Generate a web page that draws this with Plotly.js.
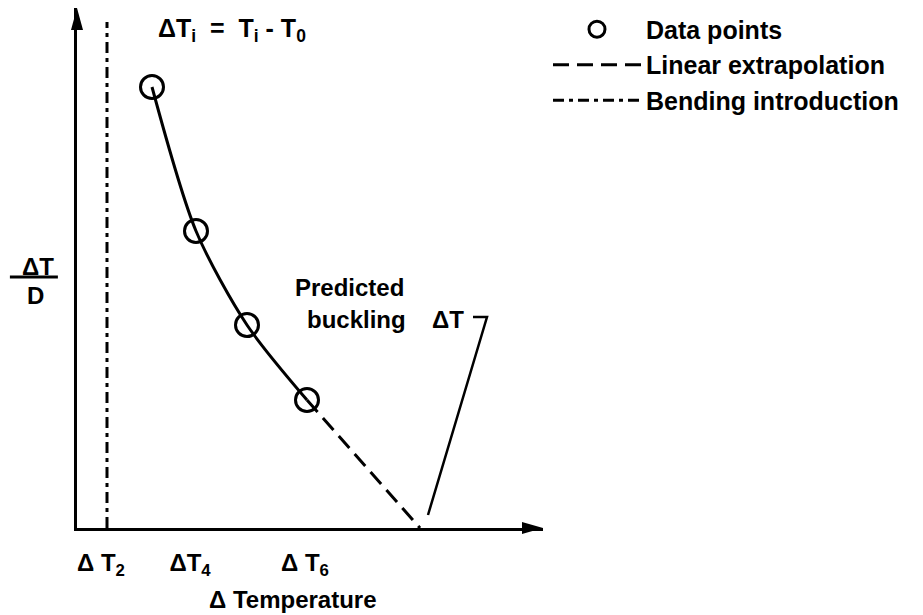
<!DOCTYPE html>
<html>
<head>
<meta charset="utf-8">
<script src="https://cdn.plot.ly/plotly-3.0.1.min.js"></script>
<style>
  html, body { margin: 0; padding: 0; background: #fff; }
  #chart { width: 923px; height: 615px; }
</style>
</head>
<body>
<div id="chart"></div>
<script>
var pointsX = [7.5, 11.9, 17.0, 23.0];
var pointsY = [44.1, 29.7, 20.3, 12.8];
var bucklingX = 34.3;
var bucklingY = 0;
var bendingX = 3.0;
var bendingTop = 50.6;
var tickVals = [2.4, 11.3, 22.8];
var tickText = ['Δ T<sub>2</sub>', 'ΔT<sub>4</sub>', 'Δ T<sub>6</sub>'];
var xMax = 46.6;
var yMax = 52.0;

var FONT = 'Liberation Sans, Arial, Helvetica, sans-serif';
var f = function (s) { return {family: FONT, size: s, color: '#000', weight: 'bold'}; };

var traces = [
  { // fitted curve through data points
    x: pointsX, y: pointsY, mode: 'lines', showlegend: false,
    line: {color: '#000', width: 3, shape: 'spline', smoothing: 0.8},
    hoverinfo: 'skip'
  },
  {
    x: pointsX, y: pointsY, mode: 'markers', name: 'Data points',
    marker: {symbol: 'circle-open', size: 23, color: '#000', line: {width: 3, color: '#000'}}
  },
  {
    x: [pointsX[pointsX.length - 1], bucklingX],
    y: [pointsY[pointsY.length - 1], bucklingY],
    mode: 'lines', name: 'Linear extrapolation',
    line: {color: '#000', width: 3, dash: '16px,8px'}
  },
  {
    x: [bendingX, bendingX], y: [0, bendingTop],
    mode: 'lines', name: 'Bending introduction',
    line: {color: '#000', width: 3, dash: '11px,5px,4px,5px'}
  }
];

var layout = {
  width: 923, height: 615,
  margin: {l: 77, r: 380, t: 8, b: 87, autoexpand: false},
  paper_bgcolor: '#fff', plot_bgcolor: '#fff',
  showlegend: true,
  legend: {
    x: 1.0107, xanchor: 'left', y: 1.003, yanchor: 'top',
    font: f(25), itemwidth: 88, tracegroupgap: 0,
    bgcolor: 'rgba(0,0,0,0)'
  },
  xaxis: {
    range: [0, xMax], showgrid: false, zeroline: false,
    showline: true, linecolor: '#000', linewidth: 3,
    tickmode: 'array', tickvals: tickVals, ticktext: tickText,
    ticks: '', tickfont: f(24), ticklabelstandoff: 11, fixedrange: true
  },
  yaxis: {
    range: [0, yMax], showgrid: false, zeroline: false,
    showline: true, linecolor: '#000', linewidth: 3,
    showticklabels: false, ticks: '', fixedrange: true
  },
  shapes: [
    { // y-axis arrow head (paper units)
      type: 'path', xref: 'paper', yref: 'paper',
      path: 'M0,1 L-0.0129,0.9577 L0.0129,0.9577 Z',
      fillcolor: '#000', line: {width: 0}
    },
    { // x-axis arrow head (paper units)
      type: 'path', xref: 'paper', yref: 'paper',
      path: 'M1,0 L0.955,0.0115 L0.955,-0.0115 Z',
      fillcolor: '#000', line: {width: 0}
    },
    { // pointer from label to predicted buckling point
      type: 'path', xref: 'x', yref: 'y',
      path: 'M39.6,21.1 L41.0,21.1 L' + (bucklingX + 0.8) + ',' + (bucklingY + 1.3),
      line: {color: '#000', width: 2.5}
    },
    { // fraction bar of y label
      type: 'line', xref: 'paper', yref: 'paper',
      x0: -0.144, x1: -0.041, y0: 0.4826, y1: 0.4826,
      line: {color: '#000', width: 3}
    }
  ],
  annotations: [
    {text: 'ΔT<sub>i</sub>  =  T<sub>i</sub> - T<sub>0</sub>', x: 15.5, y: 49.8, xref: 'x', yref: 'y',
     xanchor: 'center', yanchor: 'middle', showarrow: false, font: f(25)},
    {text: 'Predicted', x: 21.6, y: 24.1, xref: 'x', yref: 'y', xanchor: 'left', yanchor: 'middle',
     showarrow: false, font: f(24)},
    {text: 'buckling', x: 22.8, y: 20.9, xref: 'x', yref: 'y', xanchor: 'left', yanchor: 'middle',
     showarrow: false, font: f(24)},
    {text: 'ΔT', x: 35.3, y: 20.9, xref: 'x', yref: 'y', xanchor: 'left', yanchor: 'middle',
     showarrow: false, font: f(24)},
    {text: 'ΔT', x: -0.0837, y: 0.502, xref: 'paper', yref: 'paper', xanchor: 'center', yanchor: 'middle',
     showarrow: false, font: f(24)},
    {text: 'D', x: -0.090, y: 0.4477, xref: 'paper', yref: 'paper', xanchor: 'center', yanchor: 'middle',
     showarrow: false, font: f(24)},
    {text: 'Δ Temperature', x: 0.4635, y: -0.1376, xref: 'paper', yref: 'paper', xanchor: 'center', yanchor: 'middle',
     showarrow: false, font: f(24)}
  ]
};

Plotly.newPlot('chart', traces, layout, {displayModeBar: false, staticPlot: true});
</script>
</body>
</html>
